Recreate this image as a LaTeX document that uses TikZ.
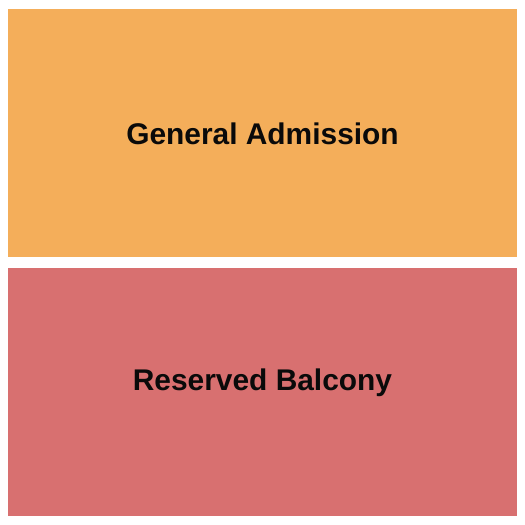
\documentclass[tikz,border=0pt]{standalone}
\usepackage{fontspec}
\setmainfont{Liberation Sans}
\definecolor{gaorange}{HTML}{F4AE5A}
\definecolor{rbred}{HTML}{D87070}
\definecolor{labelink}{HTML}{0A0A0A}
\begin{document}
\begin{tikzpicture}[x=1pt,y=1pt,
  sectionlabel/.style={anchor=base,text=labelink,font=\fontsize{29.9}{33}\selectfont\bfseries,inner sep=0pt}]
\useasboundingbox (0,0) rectangle (525,525);
\fill[white] (0,0) rectangle (525,525);
\fill[gaorange] (8,268) rectangle (517,516);
\fill[rbred] (8,9) rectangle (517,257);
\node[sectionlabel] (ga) at (262.5,380.5) {General Admission};
\node[sectionlabel] (rb) at (262.5,134.2) {Reserved Balcony};
\end{tikzpicture}
\end{document}
